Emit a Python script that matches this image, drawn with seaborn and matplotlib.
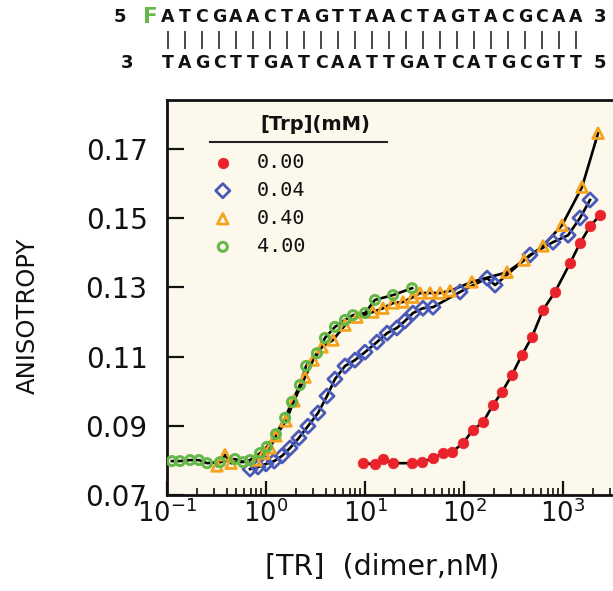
import numpy as np
import pandas as pd
import matplotlib
matplotlib.use("Agg")
import matplotlib.pyplot as plt
import seaborn as sns

# ---------------- data ----------------
trp_labels = ["0.00", "0.04", "0.40", "4.00"]

x_red = [9.55, 12.6, 15.2, 19.2, 29.9, 37.7, 48.6, 61.4, 75.7, 97.7, 123, 156, 196,
         242, 305, 385, 486, 628, 830, 1177, 1486, 1875, 2366]
y_red = [0.0792, 0.0789, 0.0804, 0.0792, 0.0792, 0.0795, 0.0806, 0.0821, 0.0824, 0.0850,
         0.0888, 0.0911, 0.0960, 0.0998, 0.1047, 0.1105, 0.1157, 0.1235, 0.1287, 0.1370,
         0.1428, 0.1477, 0.1509]

x_blue = [0.69, 0.83, 1.0, 1.21, 1.45, 1.75, 2.15, 2.65, 3.35, 4.13, 4.97, 6.28, 7.92,
          10.0, 13.2, 16.7, 21.0, 25.3, 30.5, 38.5, 48.6, 91.2, 171, 206, 464, 793,
          1124, 1486, 1875]
y_blue = [0.0775, 0.0781, 0.0790, 0.0798, 0.0813, 0.0836, 0.0865, 0.0899, 0.0937, 0.0986,
          0.1035, 0.1073, 0.1090, 0.1113, 0.1142, 0.1168, 0.1183, 0.1203, 0.1226, 0.1240,
          0.1243, 0.1287, 0.1327, 0.1307, 0.1394, 0.1431, 0.1451, 0.1501, 0.1553]

x_orange = [0.32, 0.385, 0.443, 0.79, 0.955, 1.10, 1.26, 1.59, 1.92, 2.48, 2.99, 3.68,
            4.75, 6.28, 8.30, 12.0, 15.2, 19.2, 24.2, 30.5, 36.0, 45.4, 57.3, 72.3, 120,
            272, 404, 628, 977, 1556, 2260]
y_orange = [0.0784, 0.0816, 0.0792, 0.0801, 0.0821, 0.0836, 0.0871, 0.0914, 0.0972, 0.1041,
            0.1090, 0.1128, 0.1148, 0.1191, 0.1214, 0.1229, 0.1240, 0.1255, 0.1258, 0.1272,
            0.1284, 0.1284, 0.1284, 0.1290, 0.1316, 0.1344, 0.1379, 0.1420, 0.1480, 0.1590,
            0.1746]

x_green = [0.112, 0.135, 0.171, 0.210, 0.254, 0.343, 0.486, 0.586, 0.689, 0.869, 1.02,
           1.26, 1.56, 1.83, 2.20, 2.54, 3.27, 3.94, 4.97, 6.28, 7.56, 10.0, 12.6, 19.2, 29.9]
y_green = [0.0798, 0.0798, 0.0801, 0.0801, 0.0792, 0.0795, 0.0804, 0.0795, 0.0801, 0.0821,
           0.0839, 0.0876, 0.0923, 0.0969, 0.1018, 0.1073, 0.1110, 0.1154, 0.1186, 0.1206,
           0.1220, 0.1226, 0.1264, 0.1278, 0.1298]

y_ticks = [0.07, 0.09, 0.11, 0.13, 0.15, 0.17]

top_strand = "ATCGAACTAGTTAACTAGTACGCAA"
bottom_strand = "TAGCTTGATCAATTGATCATGCGTT"

# ---------------- styling ----------------
RED = "#E8232B"
BLUE = "#4A5AB8"
ORANGE = "#F5A31E"
GREEN = "#63B847"
BG = "#FCF8EC"
INK = "#111111"

plt.rcParams["font.family"] = ["DejaVu Sans"]

W, H = 613, 591
fig = plt.figure(figsize=(W / 100, H / 100), dpi=100)
ax = fig.add_axes([167 / W, 96 / H, 446 / W, 395 / H])
ax.set_facecolor(BG)

# fitted curves (black) through each series
for xs, ys in [(x_red, y_red), (x_blue, y_blue), (x_orange, y_orange), (x_green, y_green)]:
    sns.lineplot(x=xs, y=ys, ax=ax, color="black", lw=1.9, estimator=None,
                 sort=True, legend=False, zorder=2)

sns.scatterplot(x=x_red, y=y_red, ax=ax, marker="o", s=58, color=RED,
                edgecolor=RED, linewidth=0.5, label=trp_labels[0], zorder=3)
sns.scatterplot(x=x_blue, y=y_blue, ax=ax, marker="D", s=52, facecolors="none",
                edgecolor=BLUE, linewidth=2.0, label=trp_labels[1], zorder=3)
sns.scatterplot(x=x_orange, y=y_orange, ax=ax, marker="^", s=58, facecolors="none",
                edgecolor=ORANGE, linewidth=2.0, label=trp_labels[2], zorder=4)
sns.scatterplot(x=x_green, y=y_green, ax=ax, marker="o", s=42, facecolors="none",
                edgecolor=GREEN, linewidth=2.2, label=trp_labels[3], zorder=4)

ax.set_xscale("log")
ax.set_xlim(0.1, 10 ** 3.505)
ax.set_ylim(0.07, 0.1842)
ax.set_yticks(y_ticks)
ax.set_yticklabels([f"{v:.2f}" for v in y_ticks])

for side in ["left", "bottom", "top"]:
    ax.spines[side].set_linewidth(2.0)
    ax.spines[side].set_color(INK)
ax.spines["right"].set_visible(False)

ax.tick_params(axis="y", which="major", direction="in", length=12.5, width=1.6,
               labelsize=20, pad=14, colors=INK, right=False)
ax.tick_params(axis="x", which="major", direction="in", length=10, width=1.6,
               labelsize=18.5, pad=3, colors=INK, top=False)
ax.tick_params(axis="x", which="minor", direction="in", length=5, width=1.2,
               colors=INK, top=False)
ax.tick_params(axis="y", which="minor", left=False, right=False)

ax.set_ylabel("ANISOTROPY", fontsize=17.5, color=INK)
ax.yaxis.set_label_coords(-0.285, 0.453)
ax.set_xlabel("[TR]  (dimer,nM)", fontsize=20.5, color=INK)
ax.xaxis.set_label_coords(0.482, -0.148)

# legend
leg = ax.legend(loc="upper left", bbox_to_anchor=(0.098, 0.866), frameon=False,
                prop={"family": "DejaVu Sans Mono", "size": 14.5},
                handletextpad=1.1, labelspacing=0.45, borderaxespad=0,
                handlelength=1.2, borderpad=0)
for t in leg.get_texts():
    t.set_color(INK)
ax.text(0.332, 0.937, "[Trp](mM)", transform=ax.transAxes, ha="center", va="center",
        fontsize=14, fontweight="bold", color=INK)
ax.plot([0.096, 0.493], [0.894, 0.894], transform=ax.transAxes, color="#222222",
        lw=1.5, clip_on=False)

# DNA duplex header
x0, step = 168, 17.0
fig.text(120 / W, 1 - 17 / H, "5", ha="center", va="center", fontsize=13,
         fontweight="bold", color=INK)
fig.text(150 / W, 1 - 17 / H, "F", ha="center", va="center", fontsize=15.5,
         fontweight="bold", color=GREEN)
for i, (a, b) in enumerate(zip(top_strand, bottom_strand)):
    xp = (x0 + i * step) / W
    fig.text(xp, 1 - 17 / H, a, ha="center", va="center", fontsize=12.5,
             fontweight="bold", color=INK)
    fig.text(xp, 1 - 40 / H, "|", ha="center", va="center", fontsize=12.5,
             color=INK)
    fig.text(xp, 1 - 63 / H, b, ha="center", va="center", fontsize=12.5,
             fontweight="bold", color=INK)
fig.text(600 / W, 1 - 17 / H, "3", ha="center", va="center", fontsize=13,
         fontweight="bold", color=INK)
fig.text(127 / W, 1 - 63 / H, "3", ha="center", va="center", fontsize=13,
         fontweight="bold", color=INK)
fig.text(600 / W, 1 - 63 / H, "5", ha="center", va="center", fontsize=13,
         fontweight="bold", color=INK)

fig.savefig("out.png", dpi=100, facecolor="white")
